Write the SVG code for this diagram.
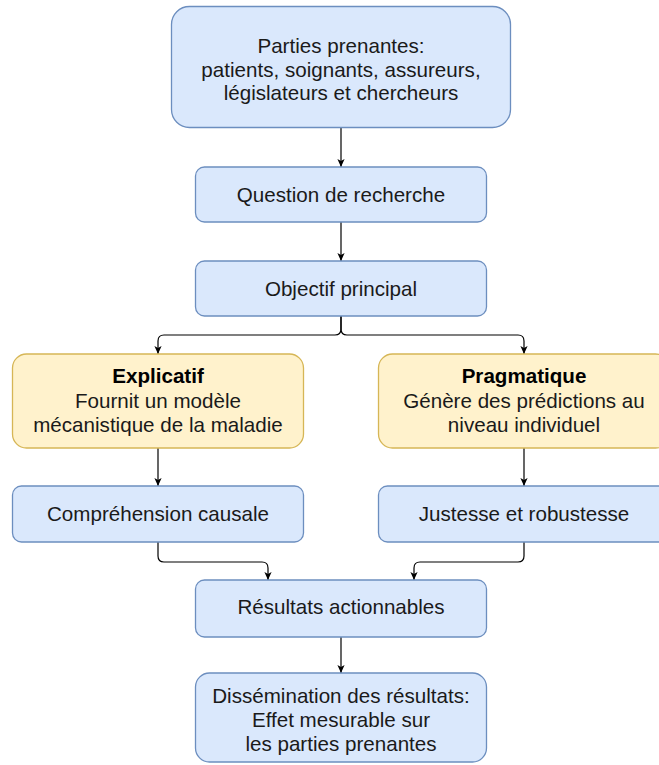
<svg xmlns="http://www.w3.org/2000/svg" width="659" height="765" viewBox="0 0 659 765">
  <defs>
    <style>
      .blue { fill: #dae8fc; stroke: #6c8ebf; stroke-width: 1.3; }
      .yellow { fill: #fff2cc; stroke: #d6b656; stroke-width: 1.3; }
      .t { font-family: "Liberation Sans", Arial, sans-serif; font-size: 20.6px; fill: #1a1a1a; text-anchor: middle; }
      .b { font-weight: bold; fill: #000; }
      .edge { fill: none; stroke: #000; stroke-width: 1.2; }
    </style>
    <marker id="arr" viewBox="0 0 10 10" refX="10" refY="5" markerWidth="8" markerHeight="8" markerUnits="userSpaceOnUse" orient="auto">
      <path d="M0,0.5 L10,5 L0,9.5 L2.5,5 z" fill="#000"/>
    </marker>
  </defs>
  <rect width="659" height="765" fill="#fff"/>

  <g id="connectors">
    <path class="edge" d="M341,128 V167" marker-end="url(#arr)"/>
    <path class="edge" d="M341,222 V261" marker-end="url(#arr)"/>
    <path class="edge" d="M341,316 V329 Q341,335 335,335 H164 Q158,335 158,341 V354" marker-end="url(#arr)"/>
    <path class="edge" d="M341,316 V329 Q341,335 347,335 H518 Q524,335 524,341 V354" marker-end="url(#arr)"/>
    <path class="edge" d="M158,448 V486" marker-end="url(#arr)"/>
    <path class="edge" d="M524,448 V486" marker-end="url(#arr)"/>
    <path class="edge" d="M158,542 V556 Q158,562 164,562 H262 Q268,562 268,568 V580" marker-end="url(#arr)"/>
    <path class="edge" d="M524,542 V556 Q524,562 518,562 H420 Q414,562 414,568 V580" marker-end="url(#arr)"/>
    <path class="edge" d="M341,637 V673" marker-end="url(#arr)"/>
  </g>

  <g id="parties">
    <rect class="blue" x="171.5" y="6.5" width="339" height="121" rx="18" ry="18"/>
    <text class="t" x="341" y="53">Parties prenantes:</text>
    <text class="t" x="341" y="76.5">patients, soignants, assureurs,</text>
    <text class="t" x="341" y="100">législateurs et chercheurs</text>
  </g>

  <g id="question">
    <rect class="blue" x="195.5" y="167" width="291" height="55" rx="9" ry="9"/>
    <text class="t" x="341" y="201.5">Question de recherche</text>
  </g>

  <g id="objectif">
    <rect class="blue" x="195.5" y="261" width="291" height="55" rx="9" ry="9"/>
    <text class="t" x="341" y="295.5">Objectif principal</text>
  </g>

  <g id="explicatif">
    <rect class="yellow" x="12.5" y="354" width="291" height="94" rx="14" ry="14"/>
    <text class="t b" x="158" y="383">Explicatif</text>
    <text class="t" x="158" y="407.5">Fournit un modèle</text>
    <text class="t" x="158" y="432">mécanistique de la maladie</text>
  </g>

  <g id="pragmatique">
    <rect class="yellow" x="378.5" y="354" width="291" height="94" rx="14" ry="14"/>
    <text class="t b" x="524" y="383">Pragmatique</text>
    <text class="t" x="524" y="407.5">Génère des prédictions au</text>
    <text class="t" x="524" y="432">niveau individuel</text>
  </g>

  <g id="comprehension">
    <rect class="blue" x="12.5" y="486" width="291" height="56" rx="9" ry="9"/>
    <text class="t" x="158" y="521">Compréhension causale</text>
  </g>

  <g id="justesse">
    <rect class="blue" x="378.5" y="486" width="291" height="56" rx="9" ry="9"/>
    <text class="t" x="524" y="521">Justesse et robustesse</text>
  </g>

  <g id="resultats">
    <rect class="blue" x="195.5" y="580" width="291" height="57" rx="9" ry="9"/>
    <text class="t" x="341" y="614">Résultats actionnables</text>
  </g>

  <g id="dissemination">
    <rect class="blue" x="195.5" y="673" width="291" height="89" rx="14" ry="14"/>
    <text class="t" x="341" y="703">Dissémination des résultats:</text>
    <text class="t" x="341" y="727">Effet mesurable sur</text>
    <text class="t" x="341" y="751">les parties prenantes</text>
  </g>
</svg>
